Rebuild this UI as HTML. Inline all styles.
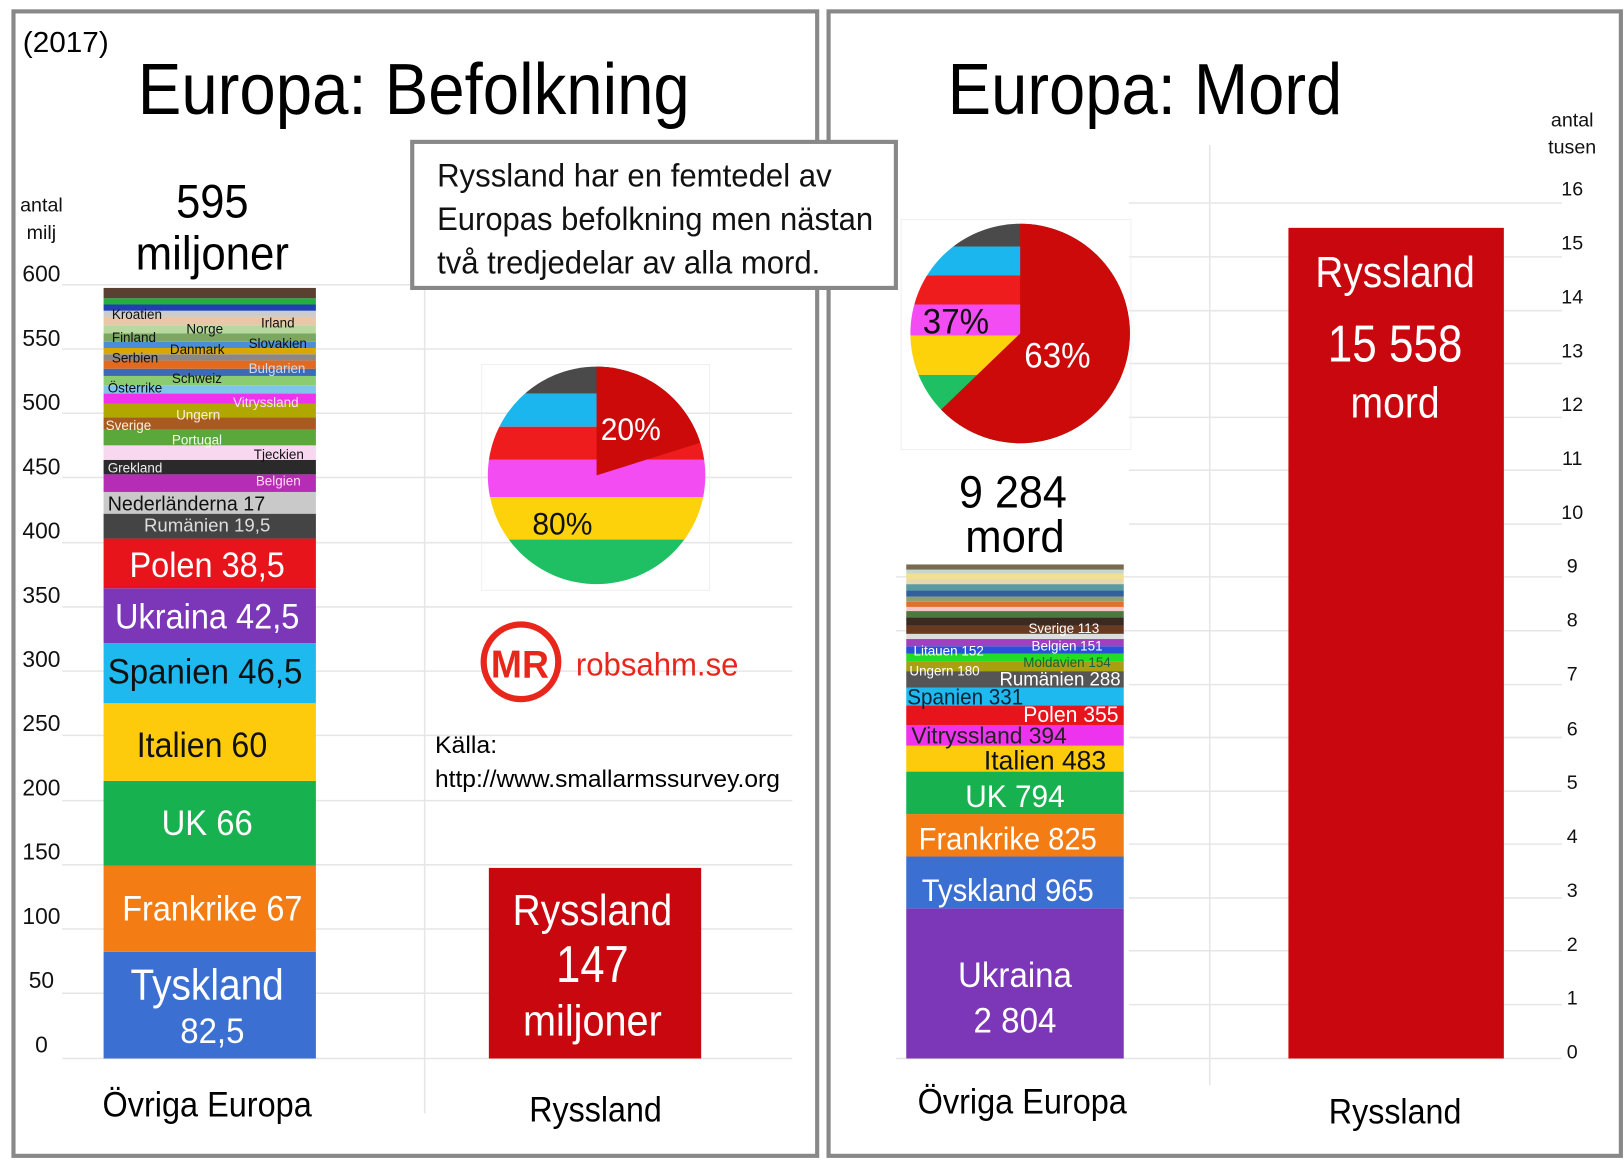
<!DOCTYPE html>
<html><head><meta charset="utf-8"><style>
html,body{margin:0;padding:0;background:#fff}
svg{display:block}
text{font-family:"Liberation Sans",sans-serif}
</style></head><body>
<svg width="1624" height="1172" viewBox="0 0 1568 1131.6" xmlns="http://www.w3.org/2000/svg">
<rect width="1568" height="1132" fill="#fff"/>
<rect x="13" y="11" width="776" height="1105" fill="none" stroke="#888" stroke-width="4"/>
<rect x="800" y="11" width="765" height="1105" fill="none" stroke="#888" stroke-width="4"/>
<g stroke="#e6e6e6" stroke-width="1.5">
<line x1="60" y1="275" x2="765" y2="275"/><line x1="60" y1="337" x2="765" y2="337"/><line x1="60" y1="399" x2="765" y2="399"/><line x1="60" y1="461" x2="765" y2="461"/><line x1="60" y1="524" x2="765" y2="524"/><line x1="60" y1="586" x2="765" y2="586"/><line x1="60" y1="648" x2="765" y2="648"/><line x1="60" y1="710" x2="765" y2="710"/><line x1="60" y1="773" x2="765" y2="773"/><line x1="60" y1="835" x2="765" y2="835"/><line x1="60" y1="897" x2="765" y2="897"/><line x1="60" y1="959" x2="765" y2="959"/><line x1="60" y1="1022" x2="765" y2="1022"/>
<line x1="410" y1="280" x2="410" y2="1075"/>
</g>
<g font-size="22" fill="#111" text-anchor="middle">
<text x="40" y="272">600</text><text x="40" y="334">550</text><text x="40" y="396">500</text><text x="40" y="458">450</text><text x="40" y="520">400</text><text x="40" y="582">350</text><text x="40" y="644">300</text><text x="40" y="706">250</text><text x="40" y="768">200</text><text x="40" y="830">150</text><text x="40" y="892">100</text><text x="40" y="954">50</text><text x="40" y="1016">0</text>
<text x="40" y="204" font-size="19">antal</text><text x="40" y="231" font-size="19">milj</text>
</g>
<text x="22" y="50" font-size="28" textLength="83" lengthAdjust="spacingAndGlyphs">(2017)</text>
<text x="133" y="110" font-size="70" textLength="533" lengthAdjust="spacingAndGlyphs">Europa: Befolkning</text>
<text x="205" y="210" font-size="46" text-anchor="middle" textLength="70" lengthAdjust="spacingAndGlyphs">595</text>
<text x="205" y="260" font-size="46" text-anchor="middle" textLength="148" lengthAdjust="spacingAndGlyphs">miljoner</text>
<g>
<rect x="100" y="919" width="205" height="103" fill="#3b6fd1"/>
<rect x="100" y="836" width="205" height="83" fill="#f47c14"/>
<rect x="100" y="754" width="205" height="82" fill="#17b150"/>
<rect x="100" y="679" width="205" height="75" fill="#fdcb0b"/>
<rect x="100" y="621" width="205" height="58" fill="#1db9ef"/>
<rect x="100" y="568" width="205" height="53" fill="#7b37b8"/>
<rect x="100" y="520" width="205" height="48" fill="#e8141c"/>
<rect x="100" y="496" width="205" height="24" fill="#444"/>
<rect x="100" y="475" width="205" height="21" fill="#c9c9c9"/>
<rect x="100" y="458" width="205" height="17" fill="#b52cb5"/>
<rect x="100" y="444" width="205" height="14" fill="#2a2a2a"/>
<rect x="100" y="430" width="205" height="14" fill="#f8d8f0"/>
<rect x="100" y="415" width="205" height="15" fill="#5aa83a"/>
<rect x="100" y="403" width="205" height="12" fill="#a85a20"/>
<rect x="100" y="390" width="205" height="13" fill="#b0a800"/>
<rect x="100" y="380" width="205" height="10" fill="#ee33ee"/>
<rect x="100" y="372" width="205" height="8" fill="#7fc4ea"/>
<rect x="100" y="363" width="205" height="9" fill="#8ccc70"/>
<rect x="100" y="356" width="205" height="7" fill="#3a6bb8"/>
<rect x="100" y="348" width="205" height="8" fill="#e26a20"/>
<rect x="100" y="342" width="205" height="6" fill="#888"/>
<rect x="100" y="336" width="205" height="6" fill="#d8a800"/>
<rect x="100" y="330" width="205" height="6" fill="#4a8ed8"/>
<rect x="100" y="322" width="205" height="8" fill="#7aa860"/>
<rect x="100" y="314" width="205" height="8" fill="#b8d8a0"/>
<rect x="100" y="306" width="205" height="8" fill="#e8c8a8"/>
<rect x="100" y="300" width="205" height="6" fill="#ccc"/>
<rect x="100" y="294" width="205" height="6" fill="#2040b0"/>
<rect x="100" y="288" width="205" height="6" fill="#20b040"/>
<rect x="100" y="278" width="205" height="10" fill="#5a4030"/>
</g>
<g font-size="13" fill="#111">
<text x="108" y="308">Kroatien</text><text x="252" y="316">Irland</text>
<text x="108" y="330">Finland</text><text x="180" y="322">Norge</text><text x="240" y="336">Slovakien</text>
<text x="164" y="342">Danmark</text><text x="108" y="350">Serbien</text>
<text x="240" y="360" fill="#cde">Bulgarien</text><text x="166" y="370">Schweiz</text>
<text x="104" y="379">Österrike</text><text x="225" y="393" fill="#fde">Vitryssland</text>
<text x="170" y="405" fill="#fed">Ungern</text><text x="102" y="415" fill="#fed">Sverige</text>
<text x="166" y="429" fill="#efe">Portugal</text><text x="245" y="443">Tjeckien</text>
<text x="104" y="456" fill="#eee">Grekland</text><text x="247" y="469" fill="#fde">Belgien</text>
</g>
<text x="104" y="493" font-size="20" fill="#111" textLength="152" lengthAdjust="spacingAndGlyphs">Nederländerna 17</text>
<text x="200" y="513" font-size="18" fill="#ddd" text-anchor="middle" textLength="122" lengthAdjust="spacingAndGlyphs">Rumänien 19,5</text>
<g fill="#fff" text-anchor="middle" font-size="34">
<text x="200" y="557" textLength="150" lengthAdjust="spacingAndGlyphs">Polen 38,5</text>
<text x="200" y="607" textLength="178" lengthAdjust="spacingAndGlyphs">Ukraina 42,5</text>
<text x="198" y="660" fill="#111" textLength="188" lengthAdjust="spacingAndGlyphs">Spanien 46,5</text>
<text x="195" y="731" fill="#111" textLength="126" lengthAdjust="spacingAndGlyphs">Italien 60</text>
<text x="200" y="806" textLength="88" lengthAdjust="spacingAndGlyphs">UK 66</text>
<text x="205" y="889" textLength="174" lengthAdjust="spacingAndGlyphs">Frankrike 67</text>
<text x="200" y="965" font-size="42" textLength="148" lengthAdjust="spacingAndGlyphs">Tyskland</text>
<text x="205" y="1007" textLength="62" lengthAdjust="spacingAndGlyphs">82,5</text>
</g>
<text x="200" y="1078" font-size="34" text-anchor="middle" textLength="202" lengthAdjust="spacingAndGlyphs">Övriga Europa</text>
<text x="575" y="1083" font-size="34" text-anchor="middle" textLength="128" lengthAdjust="spacingAndGlyphs">Ryssland</text>
<rect x="472" y="838" width="205" height="184" fill="#c8080e"/>
<g fill="#fff" text-anchor="middle">
<text x="572" y="893" font-size="42" textLength="154" lengthAdjust="spacingAndGlyphs">Ryssland</text>
<text x="572" y="948" font-size="50" textLength="70" lengthAdjust="spacingAndGlyphs">147</text>
<text x="572" y="1000" font-size="42" textLength="134" lengthAdjust="spacingAndGlyphs">miljoner</text>
</g>
<defs>
<clipPath id="pl"><circle cx="576" cy="459" r="105"/></clipPath>
<clipPath id="pr"><circle cx="985" cy="322" r="106"/></clipPath>
</defs>
<rect x="465" y="352" width="220" height="218" fill="none" stroke="#f0f0f0"/>
<g clip-path="url(#pl)">
<rect x="460" y="350" width="240" height="30" fill="#4a4a4a"/>
<rect x="460" y="380" width="240" height="32" fill="#1cb6ee"/>
<rect x="460" y="412" width="240" height="32" fill="#ee1c1c"/>
<rect x="460" y="444" width="240" height="36" fill="#f24cf2"/>
<rect x="460" y="480" width="240" height="41" fill="#fdd20a"/>
<rect x="460" y="521" width="240" height="50" fill="#1ec063"/>
<path d="M576,459 L576,350 L700,350 L700,420 Z" fill="#cc0a0a"/>
</g>
<text x="609" y="425" font-size="30" fill="#fff" text-anchor="middle" textLength="58" lengthAdjust="spacingAndGlyphs">20%</text>
<text x="543" y="516" font-size="30" fill="#111" text-anchor="middle" textLength="58" lengthAdjust="spacingAndGlyphs">80%</text>
<circle cx="503" cy="639" r="36" fill="#fff" stroke="#e8261c" stroke-width="6"/>
<text x="502" y="654" font-size="38" font-weight="bold" fill="#e8261c" text-anchor="middle" textLength="56" lengthAdjust="spacingAndGlyphs">MR</text>
<text x="556" y="652" font-size="31" fill="#e8261c" textLength="157" lengthAdjust="spacingAndGlyphs">robsahm.se</text>
<text x="420" y="727" font-size="23" textLength="60" lengthAdjust="spacingAndGlyphs">Källa:</text>
<text x="420" y="760" font-size="23" textLength="333" lengthAdjust="spacingAndGlyphs">http://www.smallarmssurvey.org</text>
<rect x="398" y="137" width="467" height="141" fill="#fff" stroke="#888" stroke-width="4"/>
<g font-size="31" fill="#111">
<text x="422" y="180" textLength="381" lengthAdjust="spacingAndGlyphs">Ryssland har en femtedel av</text>
<text x="422" y="222" textLength="421" lengthAdjust="spacingAndGlyphs">Europas befolkning men nästan</text>
<text x="422" y="264" textLength="370" lengthAdjust="spacingAndGlyphs">två tredjedelar av alla mord.</text>
</g>
<text x="915" y="110" font-size="70" textLength="381" lengthAdjust="spacingAndGlyphs">Europa: Mord</text>
<g stroke="#e6e6e6" stroke-width="1.5">
<line x1="865" y1="1022" x2="1508" y2="1022"/><line x1="1090" y1="970" x2="1508" y2="970"/><line x1="1090" y1="918" x2="1508" y2="918"/><line x1="1090" y1="867" x2="1508" y2="867"/><line x1="1090" y1="815" x2="1508" y2="815"/><line x1="1090" y1="764" x2="1508" y2="764"/><line x1="1090" y1="712" x2="1508" y2="712"/><line x1="1090" y1="661" x2="1508" y2="661"/><line x1="865" y1="609" x2="1508" y2="609"/><line x1="865" y1="557" x2="1508" y2="557"/><line x1="1090" y1="506" x2="1508" y2="506"/><line x1="1090" y1="454" x2="1508" y2="454"/><line x1="1090" y1="403" x2="1508" y2="403"/><line x1="1090" y1="351" x2="1508" y2="351"/><line x1="1090" y1="300" x2="1508" y2="300"/><line x1="1090" y1="248" x2="1508" y2="248"/><line x1="1090" y1="196" x2="1508" y2="196"/>
<line x1="1168" y1="140" x2="1168" y2="1048"/>
</g>
<g font-size="19" fill="#111" text-anchor="middle">
<text x="1518" y="122">antal</text><text x="1518" y="148">tusen</text>
<text x="1518" y="189">16</text><text x="1518" y="241">15</text><text x="1518" y="293">14</text><text x="1518" y="345">13</text><text x="1518" y="397">12</text><text x="1518" y="449">11</text><text x="1518" y="501">10</text><text x="1518" y="553">9</text><text x="1518" y="605">8</text><text x="1518" y="657">7</text><text x="1518" y="710">6</text><text x="1518" y="762">5</text><text x="1518" y="814">4</text><text x="1518" y="866">3</text><text x="1518" y="918">2</text><text x="1518" y="970">1</text><text x="1518" y="1022">0</text>
</g>
<rect x="1244" y="220" width="208" height="802" fill="#c8080e"/>
<g fill="#fff" text-anchor="middle">
<text x="1347" y="277" font-size="42" textLength="154" lengthAdjust="spacingAndGlyphs">Ryssland</text>
<text x="1347" y="349" font-size="50" textLength="130" lengthAdjust="spacingAndGlyphs">15 558</text>
<text x="1347" y="403" font-size="42" textLength="86" lengthAdjust="spacingAndGlyphs">mord</text>
</g>
<text x="1347" y="1085" font-size="34" text-anchor="middle" textLength="128" lengthAdjust="spacingAndGlyphs">Ryssland</text>
<text x="987" y="1075" font-size="34" text-anchor="middle" textLength="202" lengthAdjust="spacingAndGlyphs">Övriga Europa</text>
<text x="978" y="490" font-size="44" text-anchor="middle" textLength="104" lengthAdjust="spacingAndGlyphs">9 284</text>
<text x="980" y="533" font-size="44" text-anchor="middle" textLength="96" lengthAdjust="spacingAndGlyphs">mord</text>
<g>
<rect x="875" y="877" width="210" height="145" fill="#7b37b8"/>
<rect x="875" y="827" width="210" height="50" fill="#3b6fd1"/>
<rect x="875" y="786" width="210" height="41" fill="#f47c14"/>
<rect x="875" y="745" width="210" height="41" fill="#17b150"/>
<rect x="875" y="720" width="210" height="25" fill="#fdcb0b"/>
<rect x="875" y="700" width="210" height="20" fill="#ee33ee"/>
<rect x="875" y="681" width="210" height="19" fill="#e8141c"/>
<rect x="875" y="664" width="210" height="17" fill="#1db9ef"/>
<rect x="875" y="648" width="210" height="16" fill="#555"/>
<rect x="875" y="639" width="210" height="9" fill="#a8a010"/>
<rect x="875" y="631" width="210" height="8" fill="#22dd22"/>
<rect x="875" y="624" width="210" height="7" fill="#2850d8"/>
<rect x="875" y="617" width="210" height="7" fill="#a040c0"/>
<rect x="875" y="612" width="210" height="5" fill="#ddd"/>
<rect x="875" y="604" width="210" height="8" fill="#6a3a20"/>
<rect x="875" y="596" width="210" height="8" fill="#3a2a20"/>
<rect x="875" y="590" width="210" height="6" fill="#4a7a40"/>
<rect x="875" y="586" width="210" height="4" fill="#f0c8c8"/>
<rect x="875" y="581" width="210" height="5" fill="#e07030"/>
<rect x="875" y="576" width="210" height="5" fill="#90a070"/>
<rect x="875" y="570" width="210" height="6" fill="#3060a0"/>
<rect x="875" y="564" width="210" height="6" fill="#5a9aa0"/>
<rect x="875" y="559" width="210" height="5" fill="#e8d8b0"/>
<rect x="875" y="554" width="210" height="5" fill="#f0e090"/>
<rect x="875" y="550" width="210" height="4" fill="#c8d8c8"/>
<rect x="875" y="545" width="210" height="5" fill="#7a6a50"/>
</g>
<g font-size="13" fill="#fff">
<text x="993" y="611">Sverige 113</text><text x="996" y="628">Belgien 151</text>
<text x="882" y="633">Litauen 152</text><text x="988" y="644" fill="#163">Moldavien 154</text>
<text x="878" y="652">Ungern 180</text>
</g>
<text x="965" y="662" font-size="19" fill="#fff" textLength="117" lengthAdjust="spacingAndGlyphs">Rumänien 288</text>
<text x="876" y="680" font-size="21" fill="#123" textLength="112" lengthAdjust="spacingAndGlyphs">Spanien 331</text>
<text x="988" y="697" font-size="21" fill="#fff" textLength="92" lengthAdjust="spacingAndGlyphs">Polen 355</text>
<text x="880" y="718" font-size="22" fill="#222" textLength="150" lengthAdjust="spacingAndGlyphs">Vitryssland 394</text>
<text x="950" y="743" font-size="26" fill="#111" textLength="118" lengthAdjust="spacingAndGlyphs">Italien 483</text>
<g fill="#fff" text-anchor="middle" font-size="30">
<text x="980" y="779" textLength="96" lengthAdjust="spacingAndGlyphs">UK 794</text>
<text x="973" y="820" textLength="172" lengthAdjust="spacingAndGlyphs">Frankrike 825</text>
<text x="973" y="870" textLength="166" lengthAdjust="spacingAndGlyphs">Tyskland 965</text>
<text x="980" y="953" font-size="34" textLength="110" lengthAdjust="spacingAndGlyphs">Ukraina</text>
<text x="980" y="997" font-size="34" textLength="80" lengthAdjust="spacingAndGlyphs">2 804</text>
</g>
<rect x="870" y="212" width="222" height="222" fill="none" stroke="#f0f0f0"/>
<g clip-path="url(#pr)">
<rect x="870" y="210" width="240" height="28" fill="#4a4a4a"/>
<rect x="870" y="238" width="240" height="28" fill="#1cb6ee"/>
<rect x="870" y="266" width="240" height="28" fill="#ee1c1c"/>
<rect x="870" y="294" width="240" height="30" fill="#f24cf2"/>
<rect x="870" y="324" width="240" height="38" fill="#fdd20a"/>
<rect x="870" y="362" width="240" height="80" fill="#1ec063"/>
<path d="M985,322 L985,210 L1100,210 L1100,440 L910,440 L906,398 Z" fill="#cc0a0a"/>
</g>
<text x="1021" y="355" font-size="34" fill="#fff" text-anchor="middle" textLength="64" lengthAdjust="spacingAndGlyphs">63%</text>
<text x="923" y="322" font-size="34" fill="#111" text-anchor="middle" textLength="64" lengthAdjust="spacingAndGlyphs">37%</text>
</svg>
</body></html>
